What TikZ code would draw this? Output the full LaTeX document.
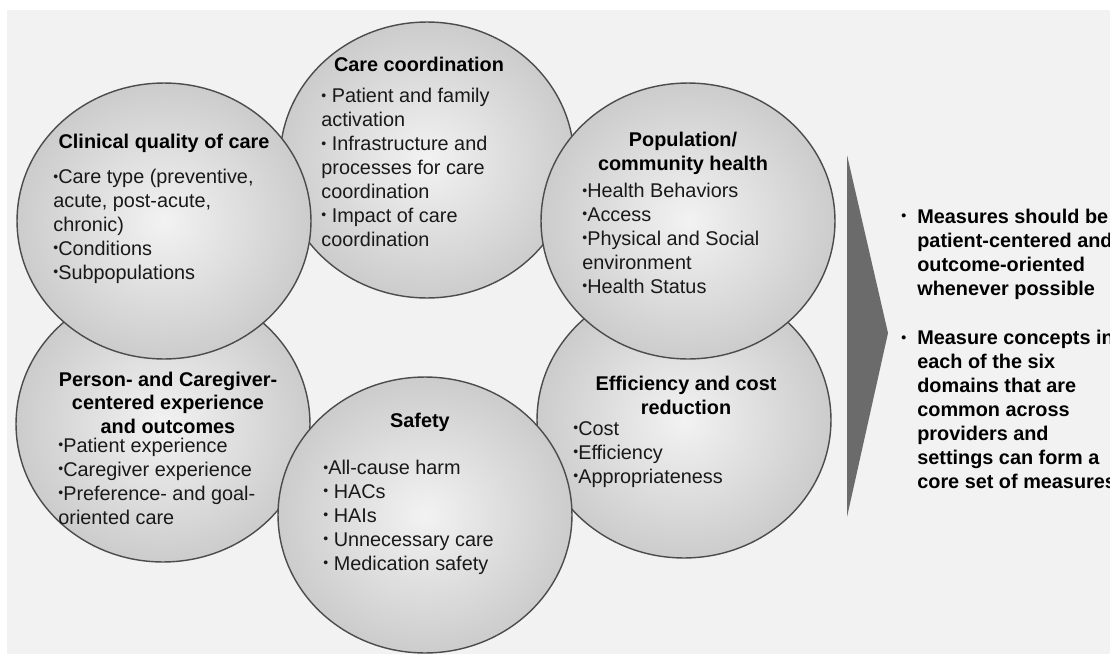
\documentclass[tikz,border=0pt]{standalone}
\usepackage{fontspec}
\setmainfont{Liberation Sans}
\usetikzlibrary{shapes.geometric,positioning}

\newcommand{\blt}{\raisebox{0.12em}{\fontsize{8}{8}\selectfont\textbullet}}

\begin{document}
\begin{tikzpicture}[x=0.02cm,y=-0.02cm,font=\fontsize{11.3}{13.6}\selectfont]
    \tikzstyle{domainbox}=[ellipse,draw=black!70,line width=0.8pt,inner sep=0pt,minimum width=5.88cm,minimum height=5.52cm,inner color=black!5,outer color=black!20]
    \tikzstyle{headline}=[font=\fontsize{11.3}{13.2}\selectfont\bfseries,align=center,anchor=base,inner sep=0pt]
    \tikzstyle{itemlist}=[align=left,anchor=base west,inner sep=0pt,text=black!90]
    \tikzstyle{notetext}=[itemlist,font=\fontsize{11.3}{13.6}\selectfont\bfseries,text=black]

    \useasboundingbox (0,0) rectangle (1110,656);
    \clip (0,0) rectangle (1110,656);

    % Background
    \fill[black!5] (7,10) rectangle (1110,654);

    % Draw the six domains, back to front
    \foreach \name/\x/\y in {care/427/160,person/163/424,clin/164/221,eff/684/420,pop/688/221,safe/425/515}
        \node[domainbox] (\name) at (\x,\y) {};

    % Titles and items of every domain (placed at the baseline of their last line)
    \node[headline] (clin-t) at (164,148) {Clinical quality of care};
    \node[itemlist] (clin-l) at (53,279) {\blt Care type (preventive,\\acute, post-acute,\\chronic)\\\blt Conditions\\\blt Subpopulations};

    \node[headline] (care-t) at (419,71) {Care coordination};
    \node[itemlist] (care-l) at (321,246) {\blt{} Patient and family\\activation\\\blt{} Infrastructure and\\processes for care\\coordination\\\blt{} Impact of care\\coordination};

    \node[headline] (pop-t) at (683,170) {Population/\\community health};
    \node[itemlist] (pop-l) at (582,293) {\blt Health Behaviors\\\blt Access\\\blt Physical and Social\\environment\\\blt Health Status};

    \node[headline] (eff-t) at (686,414) {Efficiency and cost\\reduction};
    \node[itemlist] (eff-l) at (573,483) {\blt Cost\\\blt Efficiency\\\blt Appropriateness};

    \node[headline] (person-t) at (168,433) {Person- and Caregiver-\\centered experience\\and outcomes};
    \node[itemlist] (person-l) at (58,524) {\blt Patient experience\\\blt Caregiver experience\\\blt Preference- and goal-\\oriented care};

    \node[headline] (safe-t) at (420,427) {Safety};
    \node[itemlist] (safe-l) at (323,570) {\blt All-cause harm\\\blt{} HACs\\\blt{} HAIs\\\blt{} Unnecessary care\\\blt{} Medication safety};

    % The arrow
    \fill[black!58] (847,155) -- (888,333) -- (847,517) -- cycle;

    % Conclusions
    \node[notetext] (msg-1) at (917,295) {\llap{\blt\hspace{0.22cm}}Measures should be\\patient-centered and\\outcome-oriented\\whenever possible};
    \node[notetext] (msg-2) at (917,488) {\llap{\blt\hspace{0.22cm}}Measure concepts in\\each of the six\\domains that are\\common across\\providers and\\settings can form a\\core set of measures};
\end{tikzpicture}
\end{document}
